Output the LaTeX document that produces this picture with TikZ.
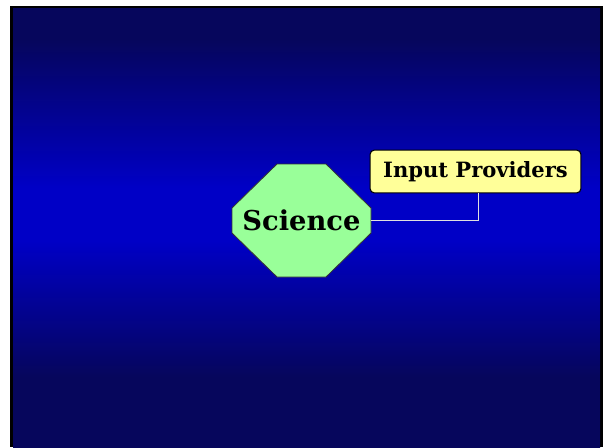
\documentclass[tikz,border=0pt]{standalone}
\usepackage{fontspec}
\setmainfont{DejaVu Serif}
\usetikzlibrary{positioning,calc}
\definecolor{slidedark}{HTML}{06065C}
\definecolor{slidebright}{HTML}{0000C6}
\definecolor{octgreen}{HTML}{99FF99}
\definecolor{boxyellow}{HTML}{FFFF99}
\definecolor{linkgray}{HTML}{E0E0E0}
\pgfdeclareverticalshading{slideshade}{100bp}{color(0bp)=(slidedark); color(33bp)=(slidedark);
    color(48.5bp)=(slidebright); color(54.5bp)=(slidebright); color(71.5bp)=(slidedark); color(100bp)=(slidedark)}

\begin{document}
\begin{tikzpicture}[x=0.75pt,y=-0.75pt]
    % Stili
    \tikzset{
        octagon/.style={fill=octgreen, draw=black!80, line width=0.6pt},
        centertext/.style={minimum width=104pt, minimum height=85pt, font=\bfseries\fontsize{20.5}{24}\selectfont},
        provider/.style={rectangle, draw=black, line width=0.8pt, fill=boxyellow, rounded corners=3pt, minimum width=158pt, minimum height=32pt, text centered, font=\bfseries\fontsize{15.8}{18}\selectfont},
        link/.style={draw=linkgray, line width=0.9pt}
    }
    \useasboundingbox (0,0) rectangle (605,447);

    % Sfondo della diapositiva
    \fill[black] (10,6) rectangle (603,447);
    \shade[shading=slideshade] (13,8) rectangle (600,447);

    % Ottagono centrale
    \coordinate (sc) at (301.5,220.5);
    \draw[octagon] ($(sc)+(-24.5,-56.5)$) -- ($(sc)+(24.5,-56.5)$) -- ($(sc)+(69.5,-12.5)$) -- ($(sc)+(69.5,12.5)$)
        -- ($(sc)+(24.5,56.5)$) -- ($(sc)+(-24.5,56.5)$) -- ($(sc)+(-69.5,12.5)$) -- ($(sc)+(-69.5,-12.5)$) -- cycle;
    \node[centertext] (science) at (sc) {Science};

    % Riquadro collegato
    \node[provider] (providers) at (475.5,171.5) {Input Providers};
    \draw[link] (science.east) -| ([xshift=2pt]providers.south);

\end{tikzpicture}
\end{document}
